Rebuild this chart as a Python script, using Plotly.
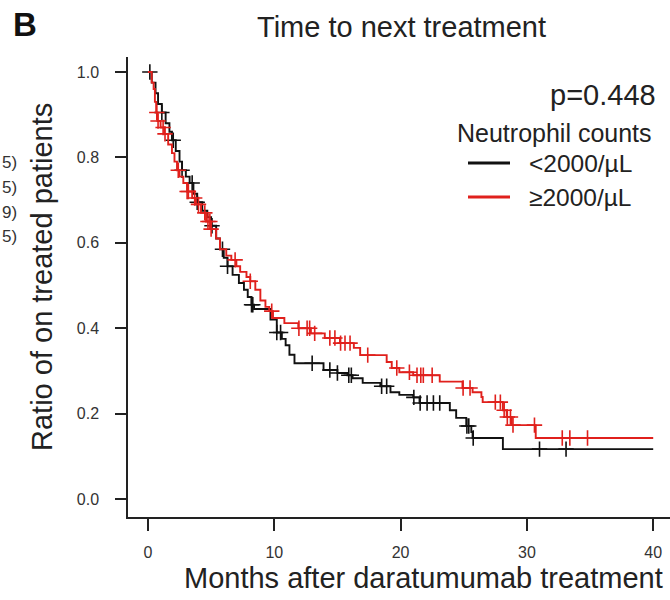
import plotly.graph_objects as go

# Kaplan-Meier steps: event time (months) and survival level after the drop
low_times = [0.3, 0.6, 0.8, 1.1, 1.4, 1.7, 1.9, 2.2, 2.5, 2.7, 3.0, 3.3, 3.6, 3.9,
             4.3, 4.7, 5.0, 5.4, 5.7, 6.0, 6.3, 6.7, 7.2, 7.6, 7.9, 8.2, 8.4, 9.7,
             10.2, 10.6, 10.9, 11.2, 11.6, 13.9, 15.0, 15.8, 16.2, 17.0, 18.4,
             19.2, 19.9, 21.0, 21.5, 23.9, 24.4, 25.2, 25.6, 25.7, 28.1]
low_surv = [0.975, 0.95, 0.925, 0.905, 0.88, 0.86, 0.84, 0.815, 0.79, 0.77, 0.755,
            0.74, 0.715, 0.695, 0.675, 0.66, 0.64, 0.61, 0.585, 0.565, 0.545, 0.525,
            0.506, 0.49, 0.473, 0.455, 0.445, 0.42, 0.39, 0.375, 0.36, 0.338, 0.318,
            0.302, 0.295, 0.29, 0.283, 0.272, 0.264, 0.25, 0.244, 0.238, 0.225,
            0.208, 0.19, 0.171, 0.157, 0.143, 0.117]
low_censor = [0.15, 1.1, 2.0, 2.7, 3.5, 3.9, 5.07, 5.9, 6.3, 8.2, 8.3, 10.2, 10.5,
              13.0, 14.4, 15.0, 15.9, 16.1, 18.5, 18.9, 21.05, 21.55, 22.1, 22.6,
              23.1, 25.25, 25.4, 25.75, 31.0, 33.1]

high_times = [0.3, 0.45, 0.55, 0.65, 0.75, 1.0, 1.3, 1.6, 1.9, 2.1, 2.3, 2.5, 2.8,
              3.1, 3.5, 3.8, 4.2, 4.6, 5.0, 5.4, 5.7, 6.2, 6.6, 7.0, 7.3, 7.8, 8.1,
              8.5, 8.9, 9.3, 9.6, 9.9, 10.8, 11.9, 12.9, 14.0, 15.2, 16.3, 16.8,
              18.9, 19.3, 19.9, 21.0, 23.1, 24.9, 25.7, 26.4, 26.5, 28.1, 28.4,
              28.8, 30.7]
high_surv = [0.975, 0.96, 0.93, 0.905, 0.885, 0.87, 0.855, 0.83, 0.81, 0.79, 0.77,
             0.755, 0.74, 0.72, 0.705, 0.69, 0.67, 0.65, 0.632, 0.61, 0.585, 0.57,
             0.56, 0.545, 0.532, 0.52, 0.51, 0.49, 0.465, 0.45, 0.44, 0.424, 0.412,
             0.40, 0.388, 0.377, 0.365, 0.354, 0.337, 0.321, 0.307, 0.297, 0.29,
             0.275, 0.26, 0.25, 0.239, 0.227, 0.208, 0.192, 0.173, 0.143]
high_censor = [0.7, 0.8, 1.2, 1.35, 2.4, 3.1, 3.2, 3.7, 4.0, 4.5, 4.75, 4.9, 5.0,
               6.9, 8.1, 9.8, 11.95, 12.6, 12.8, 13.2, 14.4, 14.8, 15.25, 15.6, 16.0,
               17.4, 19.7, 20.7, 21.3, 21.6, 21.8, 22.5, 24.95, 25.5, 27.5, 27.9,
               28.2, 28.45, 28.7, 28.9, 30.6, 32.8, 33.4, 34.8]

follow_up_end = 40.0
group_names = ["<2000/µL", "≥2000/µL"]
group_colors = ["#111111", "#e0201c"]
p_text = "p=0.448"
x_ticks = [0, 10, 20, 30, 40]
y_ticks = [0.0, 0.2, 0.4, 0.6, 0.8, 1.0]
side_labels = ["5)", "5)", "9)", "5)"]

FONT = "Liberation Sans, Arial, sans-serif"
W, H = 670, 600
L, R, T, B = 128, 0, 57, 83
PW, PH = W - L - R, H - T - B


def px(xp):
    return (xp - L) / PW


def py(yp):
    return (H - B - yp) / PH


def level_at(times, surv, t):
    s = 1.0
    for ti, si in zip(times, surv):
        if ti <= t:
            s = si
    return s


fig = go.Figure()
groups = [(low_times, low_surv, low_censor), (high_times, high_surv, high_censor)]
for (times, surv, cens), name, col in zip(groups, group_names, group_colors):
    xs = [0.0] + times + [follow_up_end]
    ys = [1.0] + surv + [surv[-1]]
    fig.add_trace(go.Scatter(x=xs, y=ys, mode="lines", line=dict(color=col, width=1.9, shape="hv"),
                             name=name, showlegend=False, hoverinfo="skip"))
    fig.add_trace(go.Scatter(x=cens, y=[level_at(times, surv, c) for c in cens], mode="markers",
                             marker=dict(symbol="cross-thin", size=11, line=dict(color=col, width=1.6)),
                             showlegend=False, hoverinfo="skip"))

fig.update_layout(
    width=W, height=H, margin=dict(l=L, r=R, t=T, b=B),
    paper_bgcolor="white", plot_bgcolor="white",
    font=dict(family=FONT, color="#222"),
    xaxis=dict(range=[-1.58, 41.33], showgrid=False, zeroline=False, showline=True,
               linecolor="#222", linewidth=1.5, ticks="outside", ticklen=12, tickwidth=1.5,
               tickcolor="#222", tickvals=x_ticks, ticktext=[str(v) for v in x_ticks],
               tickfont=dict(size=16, color="#333"), ticklabelstandoff=8),
    yaxis=dict(range=[-0.042, 1.035], showgrid=False, zeroline=False, showline=True,
               linecolor="#222", linewidth=1.5, ticks="outside", ticklen=11, tickwidth=1.5,
               tickcolor="#222", tickvals=y_ticks, ticktext=[f"{v:.1f}" for v in y_ticks],
               tickfont=dict(size=16, color="#333"), ticklabelstandoff=13),
)

ann = []
ann.append(dict(text="<b>B</b>", x=px(11), y=py(25), xanchor="left", yanchor="middle",
                font=dict(size=33, color="#111")))
ann.append(dict(text="Time to next treatment", x=px(401), y=py(27), xanchor="center",
                yanchor="middle", font=dict(size=29, color="#222")))
ann.append(dict(text="Ratio of on treated patients", x=px(42), y=py(277), xanchor="center",
                yanchor="middle", textangle=-90, font=dict(size=29, color="#222")))
ann.append(dict(text="Months after daratumumab treatment", x=px(665), y=py(578),
                xanchor="right", yanchor="middle", font=dict(size=29, color="#222")))
ann.append(dict(text=p_text, x=px(658), y=py(95), xanchor="right", yanchor="middle",
                font=dict(size=29, color="#222")))
ann.append(dict(text="Neutrophil counts", x=px(455), y=py(133), xanchor="left",
                yanchor="middle", font=dict(size=25, color="#222")))
for i, (name, col) in enumerate(zip(group_names, group_colors)):
    yy = 163 + 34 * i
    ann.append(dict(text=name, x=px(527), y=py(yy), xanchor="left", yanchor="middle",
                    font=dict(size=24.5, color="#222")))
    fig.add_shape(type="line", xref="paper", yref="paper", x0=px(468), x1=px(510),
                  y0=py(yy), y1=py(yy), line=dict(color=col, width=3))
for i, s in enumerate(side_labels):
    ann.append(dict(text=s, x=px(0), y=py(162 + 25 * i), xanchor="left", yanchor="middle",
                    font=dict(size=17, color="#333")))
for a in ann:
    a.update(xref="paper", yref="paper", showarrow=False)
fig.update_layout(annotations=ann)

fig.write_html("out.html")
